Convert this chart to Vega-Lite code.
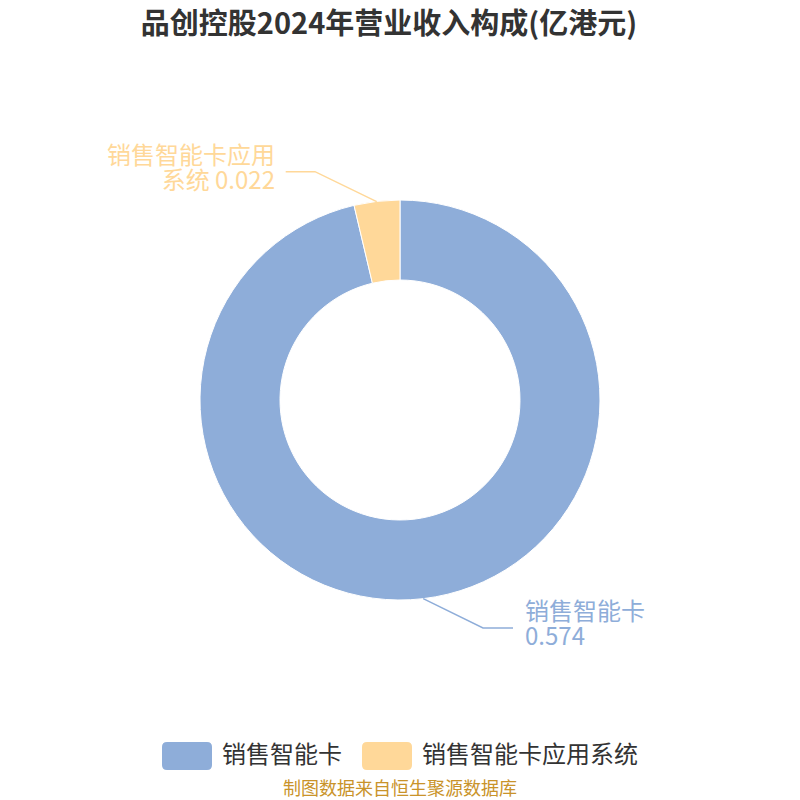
{
  "$schema": "https://vega.github.io/schema/vega-lite/v6.json",
  "width": 800,
  "height": 800,
  "autosize": "none",
  "padding": 0,
  "background": "#ffffff",
  "config": {"view": {"stroke": null}, "font": "Noto Sans CJK SC"},
  "title": {
    "text": "品创控股2024年营业收入构成(亿港元)",
    "font": "Noto Sans CJK SC",
    "fontSize": 29,
    "fontWeight": "bold",
    "color": "#333333",
    "anchor": "middle",
    "frame": "group",
    "baseline": "middle",
    "offset": -54,
    "dx": -11
  },
  "datasets": {
    "slices": [
      {"category": "销售智能卡", "value": 0.574, "idx": 1},
      {"category": "销售智能卡应用系统", "value": 0.022, "idx": 2}
    ],
    "leaders": [
      {"category": "销售智能卡应用系统", "seq": 1, "lx": -0.1165, "ly": 0.9915},
      {"category": "销售智能卡应用系统", "seq": 2, "lx": -0.425, "ly": 1.1415},
      {"category": "销售智能卡应用系统", "seq": 3, "lx": -0.5715, "ly": 1.1415},
      {"category": "销售智能卡", "seq": 1, "lx": 0.116, "ly": -0.9935},
      {"category": "销售智能卡", "seq": 2, "lx": 0.415, "ly": -1.14},
      {"category": "销售智能卡", "seq": 3, "lx": 0.565, "ly": -1.14}
    ],
    "labels": [
      {"category": "销售智能卡应用系统", "side": "left", "label": "销售智能卡应用\n系统 0.022", "tx": -0.625, "ty": 1.215},
      {"category": "销售智能卡", "side": "right", "label": "销售智能卡\n0.574", "tx": 0.625, "ty": -1.065}
    ],
    "source": [
      {"text": "制图数据来自恒生聚源数据库", "sx": 0, "sy": -1.95}
    ]
  },
  "resolve": {"legend": {"color": "independent"}},
  "layer": [
    {
      "data": {"name": "slices"},
      "mark": {"type": "arc", "outerRadius": 200, "innerRadius": 120, "stroke": "#ffffff", "strokeWidth": 1},
      "encoding": {
        "theta": {"field": "value", "type": "quantitative", "stack": true},
        "order": {"field": "idx", "type": "quantitative"},
        "color": {
          "field": "category",
          "type": "nominal",
          "scale": {"domain": ["销售智能卡", "销售智能卡应用系统"], "range": ["#8eadd9", "#ffd899"]},
          "legend": {
            "title": null,
            "orient": "none",
            "direction": "horizontal",
            "legendX": 162,
            "legendY": 731,
            "padding": 0,
            "symbolType": "M-0.8,-0.56L0.8,-0.56Q1,-0.56 1,-0.36L1,0.36Q1,0.56 0.8,0.56L-0.8,0.56Q-1,0.56 -1,0.36L-1,-0.36Q-1,-0.56 -0.8,-0.56Z",
            "symbolSize": 2500,
            "symbolStrokeWidth": 0,
            "symbolOpacity": 1,
            "labelFont": "Noto Sans CJK SC",
            "labelFontSize": 24,
            "labelColor": "#333333",
            "labelOffset": 10,
            "columnPadding": 20,
            "labelLimit": 400
          }
        }
      }
    },
    {
      "data": {"name": "leaders"},
      "mark": {"type": "line", "strokeWidth": 1.5},
      "encoding": {
        "x": {"field": "lx", "type": "quantitative", "scale": {"domain": [-2, 2]}, "axis": null},
        "y": {"field": "ly", "type": "quantitative", "scale": {"domain": [-2, 2]}, "axis": null},
        "order": {"field": "seq", "type": "quantitative"},
        "detail": {"field": "category"},
        "color": {"field": "category", "type": "nominal", "legend": null}
      }
    },
    {
      "data": {"name": "labels"},
      "transform": [{"filter": "datum.side === 'left'"}],
      "mark": {"type": "text", "align": "right", "baseline": "middle", "fontSize": 24, "lineHeight": 25, "lineBreak": "\n", "font": "Noto Sans CJK SC"},
      "encoding": {
        "x": {"field": "tx", "type": "quantitative"},
        "y": {"field": "ty", "type": "quantitative"},
        "text": {"field": "label"},
        "color": {"field": "category", "type": "nominal", "legend": null}
      }
    },
    {
      "data": {"name": "labels"},
      "transform": [{"filter": "datum.side === 'right'"}],
      "mark": {"type": "text", "align": "left", "baseline": "middle", "fontSize": 24, "lineHeight": 25, "lineBreak": "\n", "font": "Noto Sans CJK SC"},
      "encoding": {
        "x": {"field": "tx", "type": "quantitative"},
        "y": {"field": "ty", "type": "quantitative"},
        "text": {"field": "label"},
        "color": {"field": "category", "type": "nominal", "legend": null}
      }
    },
    {
      "data": {"name": "source"},
      "mark": {"type": "text", "align": "center", "baseline": "middle", "fontSize": 18, "color": "#c9932a", "font": "Noto Sans CJK SC"},
      "encoding": {
        "x": {"field": "sx", "type": "quantitative"},
        "y": {"field": "sy", "type": "quantitative"},
        "text": {"field": "text"}
      }
    }
  ]
}
